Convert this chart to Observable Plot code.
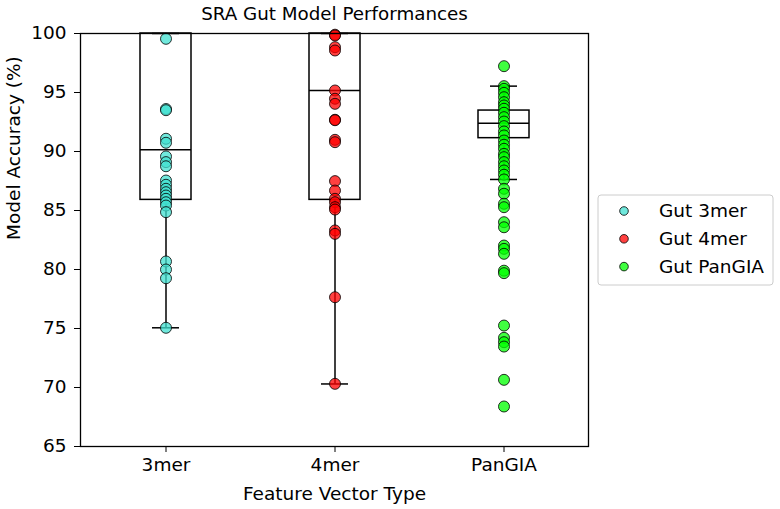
<!DOCTYPE html>
<html><head>
<meta charset="utf-8">
<script src="https://cdn.jsdelivr.net/npm/d3@7"></script>
<script src="https://cdn.jsdelivr.net/npm/@observablehq/plot@0.6"></script>
<style>body{margin:0;background:#fff;}</style>
</head><body><div id="chart"></div>
<script>
const categories = ["3mer", "4mer", "PanGIA"];
const seriesNames = ["Gut 3mer", "Gut 4mer", "Gut PanGIA"];
const seriesColors = ["#40E0D0", "#FF0000", "#00FF00"];
const acc3mer = [99.55, 93.6, 93.5, 91.08, 90.74, 89.58, 89.1, 88.75, 87.54, 87.18, 86.84, 86.55, 86.27, 85.99, 85.7, 85.42, 84.86, 80.68, 80.0, 79.26, 75.06];
const acc4mer = [99.9, 99.83, 98.84, 98.56, 95.17, 94.47, 94.04, 92.69, 92.65, 90.99, 90.79, 87.49, 86.69, 85.99, 85.7, 85.28, 85.08, 83.31, 83.02, 77.65, 70.31];
const accPanGIA = [97.23, 95.54, 95.31, 94.97, 94.6, 94.18, 93.9, 93.62, 93.28, 92.91, 92.54, 92.15, 91.7, 91.36, 90.93, 90.57, 90.23, 89.8, 89.52, 89.1, 88.75, 88.39, 88.03, 87.63, 86.84, 86.42, 85.57, 85.28, 84.01, 83.58, 82.03, 81.75, 81.33, 79.9, 79.69, 75.25, 74.21, 73.84, 73.47, 70.65, 68.39];
const boxQ1 = [85.9, 85.9, 91.13];
const boxMedian = [90.15, 95.17, 92.4];
const boxQ3 = [100, 100, 93.47];
const whiskerLow = [75.06, 70.3, 87.63];
const whiskerHigh = [100, 100, 95.54];
const yTicks = [65, 70, 75, 80, 85, 90, 95, 100];

const seriesValues = [acc3mer, acc4mer, accPanGIA];
const points = seriesValues.flatMap((vals, i) => vals.map(v => ({cat: categories[i], series: seriesNames[i], value: v})));
const boxes = categories.map((c, i) => ({cat: c, q1: boxQ1[i], med: boxMedian[i], q3: boxQ3[i], lo: whiskerLow[i], hi: whiskerHigh[i]}));

const font = "DejaVu Sans";
const fs = 18.5;
const plot = Plot.plot({
  width: 780, height: 509,
  marginLeft: 80, marginRight: 192, marginTop: 33, marginBottom: 63,
  style: {fontFamily: font, fontSize: fs + "px", color: "black", background: "white"},
  x: {type: "band", domain: categories, padding: 0, label: null},
  y: {domain: [65, 100], label: null},
  color: {domain: seriesNames, range: seriesColors},
  marks: [
    Plot.ruleX(boxes, {x: "cat", y1: "lo", y2: "q1", stroke: "black", strokeWidth: 1.5}),
    Plot.ruleX(boxes, {x: "cat", y1: "q3", y2: "hi", stroke: "black", strokeWidth: 1.5}),
    Plot.tickY(boxes, {x: "cat", y: "lo", stroke: "black", strokeWidth: 1.5, insetLeft: 71, insetRight: 71}),
    Plot.tickY(boxes, {x: "cat", y: "hi", stroke: "black", strokeWidth: 1.5, insetLeft: 71, insetRight: 71}),
    Plot.barY(boxes, {x: "cat", y1: "q1", y2: "q3", fill: "none", stroke: "black", strokeWidth: 1.5, insetLeft: 59, insetRight: 59}),
    Plot.tickY(boxes, {x: "cat", y: "med", stroke: "black", strokeWidth: 1.5, insetLeft: 59, insetRight: 59}),
    Plot.dot(points, {x: "cat", y: "value", fill: "series", fillOpacity: 0.75, stroke: "black", strokeWidth: 0.8, r: 5.5}),
    Plot.frame({stroke: "black", strokeWidth: 1.3}),
    Plot.axisY({ticks: yTicks, tickSize: 6, tickPadding: 8, fontSize: fs, label: null}),
    Plot.axisX({tickSize: 6, tickPadding: 5, fontSize: fs, label: null}),
    Plot.text(["SRA Gut Model Performances"], {frameAnchor: "top", dy: -19, fontSize: 18.3, lineAnchor: "middle"}),
    Plot.text(["Feature Vector Type"], {frameAnchor: "bottom", dy: 48, fontSize: fs, lineAnchor: "middle"}),
    Plot.text(["Model Accuracy (%)"], {frameAnchor: "left", dx: -66, rotate: -90, fontSize: fs, lineAnchor: "middle"})
  ]
});

// legend
const svg = d3.select(plot);
const lg = svg.append("g").attr("font-family", font).attr("font-size", fs).attr("text-anchor", "start");
lg.append("rect").attr("x", 598).attr("y", 195).attr("width", 175).attr("height", 90)
  .attr("rx", 3).attr("fill", "white").attr("fill-opacity", 0.8).attr("stroke", "#cccccc").attr("stroke-width", 1);
seriesNames.forEach((s, i) => {
  const cy = 211 + i * 27.8;
  lg.append("circle").attr("cx", 624).attr("cy", cy).attr("r", 4.3)
    .attr("fill", seriesColors[i]).attr("fill-opacity", 0.75).attr("stroke", "black").attr("stroke-width", 0.8);
  lg.append("text").attr("x", 659).attr("y", cy).attr("dy", "0.35em").attr("text-anchor", "start").text(s);
});

document.getElementById("chart").appendChild(plot);
</script>
</body></html>
